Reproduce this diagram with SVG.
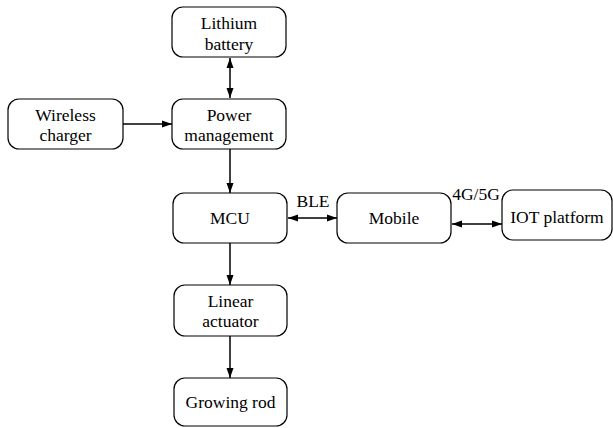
<svg xmlns="http://www.w3.org/2000/svg" width="613" height="428" viewBox="0 0 613 428">
<defs>
<style>
.box{fill:#fff;stroke:#000;stroke-width:1.2}
.c{stroke:#000;stroke-width:1.5;fill:none}
text{font-family:"Liberation Serif","DejaVu Serif",serif;font-size:17.5px;text-anchor:middle;fill:#000}
</style>
<marker id="ah" viewBox="0 0 10 10" refX="10" refY="5" markerWidth="10" markerHeight="10" markerUnits="userSpaceOnUse" orient="auto-start-reverse">
<path d="M0,1.5 L10,5 L0,8.5 Z" fill="#000"/>
</marker>
</defs>
<g id="connectors">
<line class="c" x1="230" y1="58" x2="230" y2="98" marker-start="url(#ah)" marker-end="url(#ah)"/>
<line class="c" x1="123" y1="124" x2="172" y2="124" marker-end="url(#ah)"/>
<line class="c" x1="230" y1="149" x2="230" y2="193" marker-end="url(#ah)"/>
<line class="c" x1="288" y1="218" x2="337" y2="218" marker-start="url(#ah)" marker-end="url(#ah)"/>
<line class="c" x1="452" y1="224" x2="502" y2="224" marker-start="url(#ah)" marker-end="url(#ah)"/>
<line class="c" x1="230" y1="243" x2="230" y2="285" marker-end="url(#ah)"/>
<line class="c" x1="230" y1="336" x2="230" y2="378" marker-end="url(#ah)"/>
<text x="313" y="207">BLE</text>
<text x="476" y="200">4G/5G</text>
</g>
<g id="battery"><rect class="box" x="172" y="7" width="114" height="50" rx="11"/><text x="229" y="29">Lithium</text><text x="229" y="50">battery</text></g>
<g id="power"><rect class="box" x="172" y="99" width="114" height="50" rx="11"/><text x="229" y="121">Power</text><text x="229" y="141">management</text></g>
<g id="charger"><rect class="box" x="8" y="99" width="115" height="50" rx="11"/><text x="65.5" y="121">Wireless</text><text x="65.5" y="141">charger</text></g>
<g id="mcu"><rect class="box" x="173" y="193" width="114" height="50" rx="11"/><text x="230" y="224">MCU</text></g>
<g id="mobile"><rect class="box" x="337" y="193" width="114" height="50" rx="11"/><text x="394" y="224">Mobile</text></g>
<g id="iot"><rect class="box" x="502" y="190" width="110" height="50" rx="11"/><text x="557" y="223">IOT platform</text></g>
<g id="actuator"><rect class="box" x="174" y="285" width="113" height="51" rx="11"/><text x="230.5" y="307">Linear</text><text x="230.5" y="327">actuator</text></g>
<g id="rod"><rect class="box" x="174" y="378" width="113" height="48" rx="11"/><text x="230.5" y="408">Growing rod</text></g>
</svg>
